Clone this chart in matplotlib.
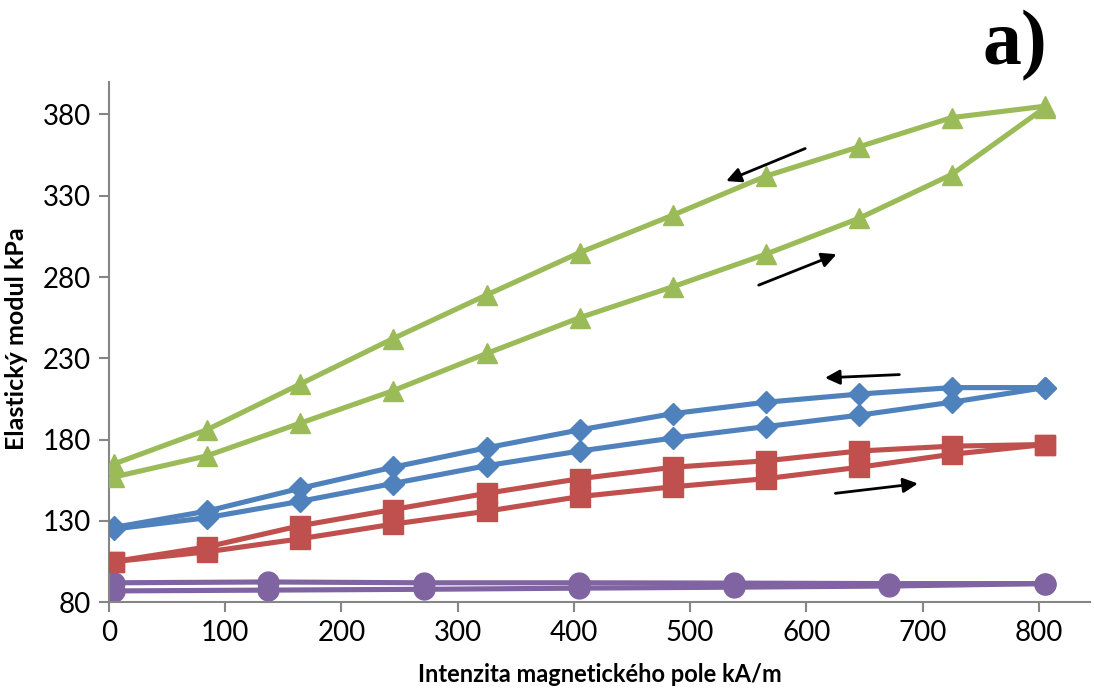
import numpy as np
import matplotlib
matplotlib.use("Agg")
import matplotlib.pyplot as plt

# field values (kA/m)
h_main = [4, 84, 164, 244, 325, 405, 485, 565, 645, 725, 805]
h_purple = [4, 137, 271, 404, 538, 671, 805]

# green (triangles): increasing / decreasing field
green_up = [157, 170, 190, 210, 233, 255, 274, 294, 316, 343, 384]
green_down = [165, 186, 214, 242, 269, 295, 318, 342, 360, 378, 385]
# blue (diamonds)
blue_up = [125, 132, 142, 153, 164, 173, 181, 188, 195, 203, 212]
blue_down = [126, 136, 150, 163, 175, 186, 196, 203, 208, 212, 212]
# red (squares)
red_up = [105, 111, 119, 128, 136, 145, 151, 156, 163, 171, 177]
red_down = [105, 114, 127, 137, 147, 156, 163, 167, 173, 176, 177]
# purple (circles)
purple_up = [87, 87.5, 88, 88.7, 89.3, 90, 91.5]
purple_down = [92, 92.5, 92, 92, 91.8, 91.5, 91.5]

# direction arrows (start, end) in data units
arrows = [((599, 359), (531, 339)),
          ((559, 275), (626, 294)),
          ((680, 220), (616, 218)),
          ((625, 147), (696, 153))]

GREEN = "#9BBB59"
BLUE = "#4F81BD"
RED = "#C0504D"
PURPLE = "#8064A2"

plt.rcParams['font.family'] = ['Lato', 'DejaVu Sans']

fig = plt.figure(figsize=(10.94, 6.90), dpi=100)
ax = fig.add_axes([0.0996, 0.1271, 0.8967, 0.7543])

lw = 3.7
for ys in (purple_up, purple_down):
    ax.plot(h_purple, ys, color=PURPLE, lw=lw, marker="o", ms=15, zorder=2)
for ys in (red_up, red_down):
    ax.plot(h_main, ys, color=RED, lw=lw, marker="s", ms=14, zorder=3)
for ys in (blue_up, blue_down):
    ax.plot(h_main, ys, color=BLUE, lw=lw, marker="D", ms=11, zorder=4)
for ys in (green_up, green_down):
    ax.plot(h_main, ys, color=GREEN, lw=lw, marker="^", ms=14, zorder=5)

for (x0, y0), (x1, y1) in arrows:
    ax.annotate("", xy=(x1, y1), xytext=(x0, y0),
                arrowprops=dict(arrowstyle="-|>", color="black", lw=2,
                                mutation_scale=22, shrinkA=0, shrinkB=0),
                zorder=6)

ax.set_xlim(0, 844)
ax.set_ylim(80, 400)
ax.set_xticks(range(0, 801, 100))
ax.set_yticks(range(80, 381, 50))
for s in ("top", "right"):
    ax.spines[s].set_visible(False)
for s in ("left", "bottom"):
    ax.spines[s].set_color("#868686")
    ax.spines[s].set_linewidth(1.5)
ax.tick_params(direction="out", length=7, width=1.5, color="#868686",
               labelsize=20, pad=6)

ax.set_xlabel("Intenzita magnetického pole kA/m", fontsize=17,
              fontweight="bold", labelpad=12)
ax.set_ylabel("Elastický modul kPa", fontsize=18, fontweight="bold",
              labelpad=12)
ax.yaxis.set_label_coords(-0.083, 0.507)

fig.text(0.957, 0.985, "a)", ha="right", va="top", fontsize=56,
         fontweight="bold", family=["Liberation Serif", "DejaVu Serif"])

fig.savefig("out.png", dpi=100)
